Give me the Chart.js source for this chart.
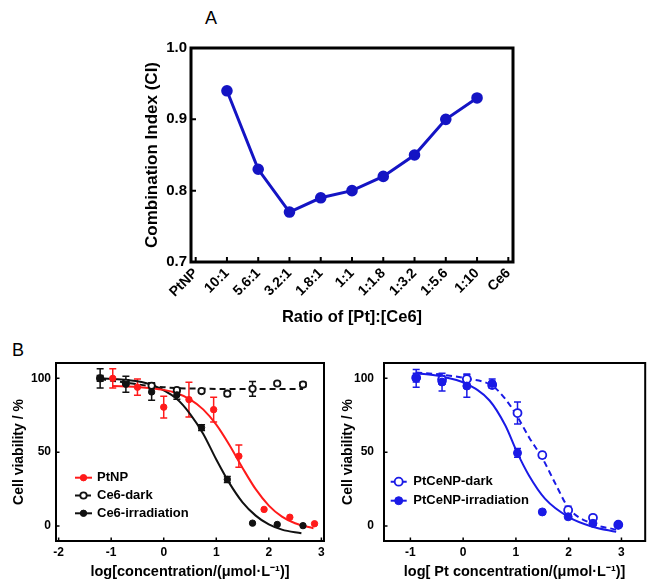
<!DOCTYPE html>
<html>
<head>
<meta charset="utf-8">
<script src="https://cdn.jsdelivr.net/npm/chart.js@4"></script>
<style>
  html, body { margin: 0; padding: 0; background: #fff; overflow: hidden; }
  body { width: 651px; height: 581px; position: relative; font-family: "Liberation Sans", Arial, sans-serif; }
  canvas { position: absolute; }
  .letter { position: absolute; font-size: 18px; line-height: 1; color: #000; }
</style>
</head>
<body>
<div class="letter" style="left:205px;top:9px">A</div>
<div class="letter" style="left:12px;top:341px">B</div>
<canvas id="chartA" width="651" height="335" style="left:0;top:0"></canvas>
<canvas id="chartB1" width="330" height="260" style="left:0;top:330px"></canvas>
<canvas id="chartB2" width="321" height="260" style="left:330px;top:330px"></canvas>
<script>
// ---- panel A: combination index ----
const ratioLabels = ['PtNP', '10:1', '5.6:1', '3.2:1', '1.8:1', '1:1', '1:1.8', '1:3.2', '1:5.6', '1:10', 'Ce6'];
const ciValues = [null, 0.94, 0.83, 0.77, 0.79, 0.80, 0.82, 0.85, 0.90, 0.93, null];
const ciTicks = [0.7, 0.8, 0.9, 1.0];

// ---- panel B left: PtNP / Ce6 ----
const concPtNP = [-0.97, -0.50, 0.00, 0.48, 0.95, 1.43, 1.91, 2.40, 2.87];
const viabPtNP = [100, 94, 80.5, 85.6, 78.8, 47.3, 11.2, 5.9, 1.5];
const errPtNP  = [6.5, 5.5, 7.3, 11.8, 8.4, 7.5, 0, 0, 0];
const concCe6 = [-1.21, -0.72, -0.23, 0.25, 0.72, 1.21, 1.69, 2.16, 2.65];
const viabCe6Dark = [100, 97, 95, 92, 91.4, 89.6, 92.9, 96.5, 95.8];
const errCe6Dark  = [2, 2, 2, 1.5, 1, 1.5, 5, 1, 1.5];
const viabCe6Irr = [100, 96, 90.8, 88.8, 66.6, 31.5, 1.9, 1.0, 0.2];
const errCe6Irr  = [6.5, 5.5, 5.7, 3, 2, 2, 0, 0, 0];
// fitted curves
const fitPtNPx = [-0.97, -0.5, 0, 0.25, 0.5, 0.75, 1.0, 1.25, 1.5, 1.75, 2.0, 2.25, 2.5, 2.85];
const fitPtNPy = [94.8, 94.2, 92.2, 89.9, 85.8, 79, 68.6, 54.8, 39.3, 24.9, 13.8, 6.3, 1.8, -1.6];
const fitCe6Irrx = [-1.21, -0.75, -0.25, 0.25, 0.5, 0.75, 1.0, 1.25, 1.5, 1.75, 2.0, 2.25, 2.62];
const fitCe6Irry = [100, 99, 95.8, 86, 76, 62.5, 45, 29, 16, 7, 1, -2.5, -5];
const fitCe6Darkx = [-1.21, -0.9, -0.6, -0.3, 0, 0.3, 0.7, 1.2, 1.7, 2.2, 2.65];
const fitCe6Darky = [99.5, 98, 96.5, 95, 94, 93.3, 93, 92.8, 92.8, 92.8, 92.8];
const xTicksLeft = [-2, -1, 0, 1, 2, 3];

// ---- panel B right: PtCeNP ----
const concPt = [-0.89, -0.40, 0.07, 0.55, 1.03, 1.50, 1.99, 2.46, 2.94];
const viabPtCeDark = [100.5, 99, 99.5, 95.5, 76.5, 48, 10.7, 5.5, 0.8];
const errPtCeDark  = [3, 3, 3.5, 2, 7.5, 2, 2.7, 1.5, 0];
const viabPtCeIrr = [100, 97.5, 94.8, 96.5, 49.5, 9.5, 6.2, 1.8, 0.6];
const errPtCeIrr  = [6, 6, 7.6, 3, 3, 0, 0, 0, 0];
const fitPtCeIrrx = [-0.89, -0.45, 0.05, 0.5, 0.8, 1.02, 1.25, 1.55, 2.0, 2.45, 2.9];
const fitPtCeIrry = [103.5, 101.5, 96.5, 85, 68, 50, 34, 18.5, 6, -0.5, -4];
const fitPtCeDarkx = [-0.89, -0.45, 0.05, 0.55, 0.8, 1.02, 1.25, 1.5, 1.75, 2.0, 2.45, 2.9];
const fitPtCeDarky = [104, 102.7, 100, 95, 86, 74.5, 60, 46, 28.5, 12, 1.5, -2.5];
const xTicksRight = [-1, 0, 1, 2, 3];
const viabTicks = [0, 50, 100];

const FONT = '"Liberation Sans", Arial, sans-serif';
Chart.defaults.font.family = FONT;
Chart.defaults.font.weight = 'bold';
Chart.defaults.color = '#000';

const toXY = (xs, ys) => xs.map((x, i) => ({ x: x, y: ys[i] }));

// box around the plot + inward tick marks
const framePlugin = {
  id: 'frame',
  afterDatasetsDraw(chart, args, opts) {
    const { ctx, chartArea: a, scales: { x, y } } = chart;
    ctx.save();
    ctx.strokeStyle = '#000';
    ctx.lineWidth = opts.tickWidth;
    ctx.beginPath();
    x.ticks.forEach(t => {
      const px = x.getPixelForValue(t.value);
      ctx.moveTo(px, a.bottom); ctx.lineTo(px, a.bottom - opts.tick);
    });
    y.ticks.forEach(t => {
      const py = y.getPixelForValue(t.value);
      ctx.moveTo(a.left, py); ctx.lineTo(a.left + opts.tick, py);
    });
    ctx.stroke();
    ctx.lineWidth = opts.width;
    ctx.strokeRect(a.left, a.top, a.right - a.left, a.bottom - a.top);
    ctx.restore();
  }
};

const errorBarPlugin = {
  id: 'errorBars',
  beforeDatasetsDraw(chart) {
    const { ctx, scales: { x, y } } = chart;
    chart.data.datasets.forEach(ds => {
      if (!ds.errors) return;
      ctx.save();
      ctx.strokeStyle = ds.pointBorderColor;
      ctx.lineWidth = 1.5;
      ds.data.forEach((p, j) => {
        const e = ds.errors[j];
        if (!e) return;
        const px = x.getPixelForValue(p.x);
        const top = y.getPixelForValue(p.y + e);
        const bot = y.getPixelForValue(p.y - e);
        ctx.beginPath();
        ctx.moveTo(px, top); ctx.lineTo(px, bot);
        ctx.moveTo(px - 3.5, top); ctx.lineTo(px + 3.5, top);
        ctx.moveTo(px - 3.5, bot); ctx.lineTo(px + 3.5, bot);
        ctx.stroke();
      });
      ctx.restore();
    });
  }
};

// legend entry = line sample with marker in the middle
const lineLegendPlugin = {
  id: 'lineLegend',
  afterDraw(chart, args, opts) {
    if (!opts.items) return;
    const { ctx, chartArea: a } = chart;
    opts.items.forEach((it, k) => {
      const pts = chart.data.datasets[it.points];
      const curve = chart.data.datasets[it.line];
      const y = a.top + opts.top + k * opts.gap;
      const x0 = a.left + opts.left, x1 = x0 + opts.len;
      ctx.save();
      ctx.strokeStyle = curve.borderColor;
      ctx.lineWidth = curve.borderWidth;
      ctx.setLineDash(curve.borderDash || []);
      ctx.beginPath(); ctx.moveTo(x0, y); ctx.lineTo(x1, y); ctx.stroke();
      ctx.setLineDash([]);
      ctx.beginPath();
      ctx.arc((x0 + x1) / 2, y, pts.pointRadius, 0, Math.PI * 2);
      ctx.fillStyle = pts.pointBackgroundColor; ctx.fill();
      ctx.lineWidth = pts.pointBorderWidth; ctx.strokeStyle = pts.pointBorderColor; ctx.stroke();
      ctx.fillStyle = '#000';
      ctx.font = 'bold 13px ' + FONT;
      ctx.textBaseline = 'middle';
      ctx.fillText(pts.label, x1 + opts.textGap, y);
      ctx.restore();
    });
  }
};

Chart.register(framePlugin, errorBarPlugin, lineLegendPlugin);

// ---------- A ----------
new Chart(document.getElementById('chartA'), {
  type: 'line',
  data: {
    datasets: [{
      label: 'CI',
      data: ratioLabels.map((l, i) => ({ x: i, y: ciValues[i] })).filter(p => p.y !== null),
      borderColor: '#1414c4',
      backgroundColor: '#1414c4',
      borderWidth: 3,
      pointRadius: 4.3,
      pointBackgroundColor: '#1414c4',
      pointBorderColor: '#1414c4',
      tension: 0
    }]
  },
  options: {
    responsive: false,
    animation: false,
    devicePixelRatio: 1,
    layout: { padding: { left: 144, top: 48, right: 138, bottom: 0 } },
    plugins: {
      legend: { display: false },
      tooltip: { enabled: false },
      frame: { width: 3, tick: 5, tickWidth: 2 }
    },
    scales: {
      x: {
        type: 'linear', min: -0.15, max: 10.15,
        afterBuildTicks: s => { s.ticks = ratioLabels.map((l, i) => ({ value: i })); },
        afterFit: s => { s.height = 73; },
        grid: { display: false, drawTicks: false },
        border: { display: false },
        ticks: { autoSkip: false, minRotation: 45, maxRotation: 45, padding: 3,
                 font: { size: 14, weight: 'bold' }, callback: v => ratioLabels[v] },
        title: { display: true, text: 'Ratio of [Pt]:[Ce6]', font: { size: 16.5, weight: 'bold', lineHeight: 1 },
                 padding: { top: 0, bottom: 9 } }
      },
      y: {
        min: 0.7, max: 1.0,
        afterBuildTicks: s => { s.ticks = ciTicks.map(v => ({ value: v })); },
        afterFit: s => { s.width = 47; },
        grid: { display: false, drawTicks: false },
        border: { display: false },
        ticks: { padding: 4, font: { size: 15, weight: 'bold' }, callback: v => v.toFixed(1) },
        title: { display: true, text: 'Combination Index (CI)', font: { size: 17, weight: 'bold', lineHeight: 1 },
                 padding: { top: 0, bottom: 0 } }
      }
    }
  }
});

// ---------- B helpers ----------
function pointSet(label, xs, ys, errs, color, open, r) {
  return {
    type: 'scatter', label: label, data: toXY(xs, ys), errors: errs, showLine: false, order: 1,
    pointRadius: r, pointHoverRadius: r,
    pointBackgroundColor: open ? '#fff' : color, pointBorderColor: color,
    pointBorderWidth: open ? 1.8 : 1, borderColor: color
  };
}
function curveSet(xs, ys, color, dashed) {
  return {
    type: 'line', label: '', data: toXY(xs, ys), order: 2, pointRadius: 0,
    borderColor: color, borderWidth: 2, borderDash: dashed ? [6, 4] : [],
    cubicInterpolationMode: 'monotone', fill: false
  };
}
function viabOptions(xMin, xMax, xTicks, xTitle, yPad, titlePad, padRight, axisWidth, legend) {
  return {
    responsive: false,
    animation: false,
    devicePixelRatio: 1,
    layout: { padding: { left: 4, top: 33, right: padRight, bottom: 0 } },
    plugins: {
      legend: { display: false },
      tooltip: { enabled: false },
      frame: { width: 2, tick: 3.5, tickWidth: 1.5 },
      lineLegend: legend
    },
    scales: {
      x: {
        type: 'linear', min: xMin, max: xMax,
        afterBuildTicks: s => { s.ticks = xTicks.map(v => ({ value: v })); },
        afterFit: s => { s.height = 49; },
        grid: { display: false, drawTicks: false },
        border: { display: false },
        ticks: { autoSkip: false, maxRotation: 0, padding: 4, font: { size: 12, weight: 'bold' } },
        title: { display: true, text: xTitle, font: { size: 14.5, weight: 'bold', lineHeight: 1 },
                 padding: { top: 0, bottom: 11 } }
      },
      y: {
        min: -10.2, max: 110.4,
        afterBuildTicks: s => { s.ticks = viabTicks.map(v => ({ value: v })); },
        afterFit: s => { s.width = axisWidth; },
        grid: { display: false, drawTicks: false },
        border: { display: false },
        ticks: { padding: yPad, font: { size: 12, weight: 'bold' } },
        title: { display: true, text: 'Cell viability / %', font: { size: 14, weight: 'bold', lineHeight: 1 },
                 padding: { top: titlePad, bottom: 0 } }
      }
    }
  };
}

const RED = '#ff1a1a', BLACK = '#111111', BLUE = '#1a1ae6';

// ---------- B left ----------
// the first dataset is drawn on top, so filled markers come before open ones
new Chart(document.getElementById('chartB1'), {
  type: 'scatter',
  data: {
    datasets: [
      pointSet('PtNP', concPtNP, viabPtNP, errPtNP, RED, false, 3.2),
      pointSet('Ce6-irradiation', concCe6, viabCe6Irr, errCe6Irr, BLACK, false, 3.2),
      pointSet('Ce6-dark', concCe6, viabCe6Dark, errCe6Dark, BLACK, true, 3.2),
      curveSet(fitPtNPx, fitPtNPy, RED, false),
      curveSet(fitCe6Irrx, fitCe6Irry, BLACK, false),
      curveSet(fitCe6Darkx, fitCe6Darky, BLACK, true)
    ]
  },
  options: viabOptions(-2.05, 3.05, xTicksLeft, 'log[concentration/(μmol·L⁻¹)]', 5, 8.5, 6, 52,
    { items: [{ points: 0, line: 3 }, { points: 2, line: 5 }, { points: 1, line: 4 }],
      top: 114.7, gap: 17.8, left: 19, len: 17, textGap: 5 })
});

// ---------- B right ----------
new Chart(document.getElementById('chartB2'), {
  type: 'scatter',
  data: {
    datasets: [
      pointSet('PtCeNP-irradiation', concPt, viabPtCeIrr, errPtCeIrr, BLUE, false, 4),
      pointSet('PtCeNP-dark', concPt, viabPtCeDark, errPtCeDark, BLUE, true, 4),
      curveSet(fitPtCeIrrx, fitPtCeIrry, BLUE, false),
      curveSet(fitPtCeDarkx, fitPtCeDarky, BLUE, true)
    ]
  },
  options: viabOptions(-1.5, 3.45, xTicksRight, 'log[ Pt concentration/(μmol·L⁻¹)]', 10, 7, 3, 50,
    { items: [{ points: 1, line: 3 }, { points: 0, line: 2 }],
      top: 118.7, gap: 19, left: 6.7, len: 16, textGap: 6.6 })
});
</script>
</body>
</html>
